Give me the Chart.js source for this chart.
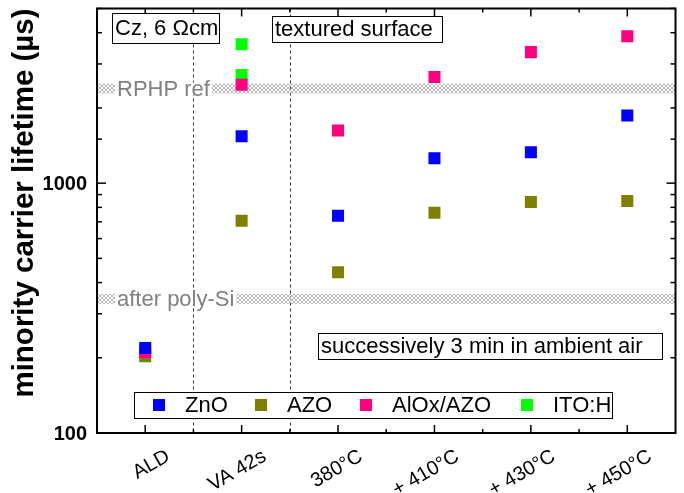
<!DOCTYPE html>
<html>
<head>
<meta charset="utf-8">
<script src="https://cdn.jsdelivr.net/npm/chart.js@4/dist/chart.umd.min.js"></script>
<style>
  html, body { margin: 0; padding: 0; background: #fff; }
  canvas { display: block; }
</style>
</head>
<body>
<canvas id="lifetime" width="684" height="493"></canvas>
<script>
// values (µs)
const categories = ["ALD", "VA 42s", "380°C", "+ 410°C", "+ 430°C", "+ 450°C"];
const znoValues = [219, 1540, 740, 1258, 1329, 1864];
const azoValues = [203, 707, 440, 761, 841, 849];
const aloxValues = [211, 2474, 1625, 2662, 3345, 3872];
const itoCategories = ["VA 42s", "VA 42s"];
const itoValues = [3598, 2711];
const refLevels = [2390, 344];
const refLabels = ["RPHP ref", "after poly-Si"];
const yTickLabels = [100, 1000];

const FONT = "'Liberation Sans', Arial, sans-serif";

// crosshatch for the reference bands
function hatch() {
	const c = document.createElement("canvas");
	c.width = 4;
	c.height = 4;
	const g = c.getContext("2d");
	g.strokeStyle = "#b8b8b8";
	g.lineWidth = 1;
	g.beginPath();
	g.moveTo(0, 0); g.lineTo(4, 4);
	g.moveTo(0, 4); g.lineTo(4, 0);
	g.stroke();
	return g.createPattern(c, "repeat");
}

function textBox(ctx, txt, x, y, w, h) {
	ctx.fillStyle = "#fff";
	ctx.fillRect(x, y, w, h);
	ctx.strokeStyle = "#000";
	ctx.lineWidth = 1;
	ctx.strokeRect(x + 0.5, y + 0.5, w, h);
	ctx.fillStyle = "#000";
	ctx.font = "22px " + FONT;
	ctx.textAlign = "left";
	ctx.textBaseline = "middle";
	ctx.fillText(txt, x + 3, y + h / 2 + 1);
}

const background = {
	id: "background",
	beforeDatasetsDraw(chart) {
		const { ctx, chartArea: { left, right, top, bottom } } = chart;
		const xs = chart.scales.x, ys = chart.scales.y;
		ctx.save();
		// dotted separators
		ctx.strokeStyle = "#333";
		ctx.lineWidth = 1;
		ctx.setLineDash([3, 3]);
		[0.5, 1.5].forEach(v => {
			const px = Math.round(xs.getPixelForValue(v)) + 0.5;
			ctx.beginPath();
			ctx.moveTo(px, top);
			ctx.lineTo(px, bottom);
			ctx.stroke();
		});
		ctx.setLineDash([]);
		// reference bands
		const pat = hatch();
		refLevels.forEach((v, i) => {
			const py = ys.getPixelForValue(v);
			ctx.fillStyle = pat;
			ctx.fillRect(left, py - 5, right - left, 10);
			ctx.font = "22px " + FONT;
			ctx.textBaseline = "middle";
			ctx.textAlign = "left";
			const w = ctx.measureText(refLabels[i]).width;
			ctx.fillStyle = "#fff";
			ctx.fillRect(left + 18, py - 6, w + 4, 12);
			ctx.fillStyle = "#808080";
			ctx.fillText(refLabels[i], left + 20, py + 1);
		});
		ctx.restore();
	}
};

const frame = {
	id: "frame",
	afterDraw(chart) {
		const { ctx, chartArea: { left, right, top, bottom } } = chart;
		const xs = chart.scales.x, ys = chart.scales.y;
		ctx.save();
		ctx.strokeStyle = "#000";
		ctx.lineWidth = 1.5;
		const line = (x1, y1, x2, y2) => {
			ctx.beginPath();
			ctx.moveTo(x1, y1);
			ctx.lineTo(x2, y2);
			ctx.stroke();
		};
		// x ticks (inside, top and bottom)
		categories.forEach((c, i) => {
			const px = xs.getPixelForValue(i);
			line(px, bottom, px, bottom - 8);
			line(px, top, px, top + 8);
			if (i > 0) {
				const mx = xs.getPixelForValue(i - 0.5);
				line(mx, bottom, mx, bottom - 4);
				line(mx, top, mx, top + 4);
			}
		});
		// y ticks (inside, left and right)
		ys.ticks.forEach(t => {
			const py = ys.getPixelForValue(t.value);
			const len = yTickLabels.includes(t.value) ? 9 : 5;
			line(left, py, left + len, py);
			line(right, py, right - len, py);
		});
		ctx.lineWidth = 2;
		ctx.strokeRect(left, top, right - left, bottom - top);

		// y tick labels
		ctx.fillStyle = "#000";
		ctx.font = "bold 20px " + FONT;
		ctx.textAlign = "right";
		ctx.textBaseline = "middle";
		yTickLabels.forEach(v => ctx.fillText(String(v), left - 10, ys.getPixelForValue(v) + 1));

		// y title
		ctx.save();
		ctx.translate(25, 203);
		ctx.rotate(-Math.PI / 2);
		ctx.textAlign = "center";
		ctx.textBaseline = "middle";
		ctx.font = "bold 29.5px " + FONT;
		ctx.fillText("minority carrier lifetime (µs)", 0, 0);
		ctx.restore();

		// rotated category labels
		ctx.font = "20px " + FONT;
		categories.forEach((c, i) => {
			ctx.save();
			ctx.translate(xs.getPixelForValue(i) + 23, bottom + 22);
			ctx.rotate(-Math.PI / 6);
			ctx.textAlign = "right";
			ctx.textBaseline = "middle";
			ctx.fillText(c, 0, 0);
			ctx.restore();
		});

		// annotation boxes
		textBox(ctx, "Cz, 6 \u03A9cm", 112, 13, 107, 30);
		textBox(ctx, "textured surface", 272, 16, 170, 26);
		textBox(ctx, "successively 3 min in ambient air", 318, 333, 344, 26);

		// legend
		ctx.fillStyle = "#fff";
		ctx.fillRect(134, 392, 478, 26);
		ctx.strokeStyle = "#000";
		ctx.lineWidth = 1;
		ctx.strokeRect(134.5, 392.5, 478, 26);
		const legendX = [159, 261, 366, 527];
		chart.data.datasets.forEach((ds, i) => {
			ctx.fillStyle = ds.pointBackgroundColor;
			ctx.fillRect(legendX[i] - 6, 399, 12, 12);
			ctx.fillStyle = "#000";
			ctx.font = "22px " + FONT;
			ctx.textAlign = "left";
			ctx.textBaseline = "middle";
			ctx.fillText(ds.label, legendX[i] + 26, 406);
		});
		ctx.restore();
	}
};

function series(label, data, color, order) {
	return {
		label: label,
		data: data,
		order: order,
		showLine: false,
		pointStyle: "rect",
		pointRadius: 8.5,
		pointHoverRadius: 8.5,
		pointBorderWidth: 0,
		pointBackgroundColor: color,
		pointBorderColor: color
	};
}

const ctx = document.getElementById("lifetime").getContext("2d");
const config = {
	type: "line",
	data: {
		labels: categories,
		datasets: [
			series("ZnO", znoValues, "#0000ff", 0),
			series("AZO", azoValues, "#808000", 2),
			series("AlOx/AZO", aloxValues, "#ff0080", 1),
			series("ITO:H", itoCategories.map((c, i) => ({ x: c, y: itoValues[i] })), "#00ff00", 3)
		]
	},
	options: {
		responsive: false,
		animation: false,
		devicePixelRatio: 1,
		layout: { padding: { top: 4, right: 8, left: 0, bottom: 0 } },
		plugins: {
			legend: { display: false },
			tooltip: { enabled: false }
		},
		scales: {
			x: {
				type: "category",
				offset: true,
				grid: { display: false },
				border: { display: false },
				ticks: { display: false },
				afterFit(s) { s.height = 60; }
			},
			y: {
				type: "logarithmic",
				min: 100,
				max: 5000,
				grid: { display: false },
				border: { display: false },
				ticks: { display: false },
				afterFit(s) { s.width = 97; }
			}
		}
	},
	plugins: [background, frame]
};

var lifetimeChart = new Chart(ctx, config);
</script>
</body>
</html>
